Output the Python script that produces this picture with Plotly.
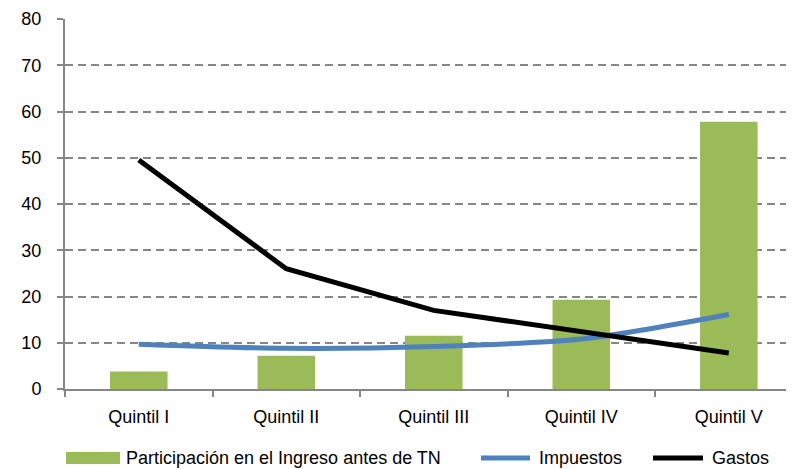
import plotly.graph_objects as go

categories = ["Quintil I", "Quintil II", "Quintil III", "Quintil IV", "Quintil V"]
ingreso = [3.8, 7.2, 11.5, 19.3, 57.8]
impuestos = [9.7, 8.8, 9.2, 10.8, 16.1]
gastos = [49.5, 26.0, 17.0, 12.3, 7.8]
y_ticks = [0, 10, 20, 30, 40, 50, 60, 70, 80]

names = ["Participación en el Ingreso antes de TN", "Impuestos", "Gastos"]
GREEN, BLUE, BLACK, GRAY = "#9BBB59", "#4F81BD", "#000000", "#868686"
FONT = "Liberation Sans, Arial, sans-serif"
FS = 18

fig = go.Figure()
fig.add_trace(go.Bar(x=categories, y=ingreso, name=names[0], marker_color=GREEN,
                     marker_line_width=0, width=0.39, showlegend=False))
fig.add_trace(go.Scatter(x=categories, y=impuestos, name=names[1], mode="lines",
                         line=dict(color=BLUE, width=5, shape="spline", smoothing=0.8),
                         showlegend=False))
fig.add_trace(go.Scatter(x=categories, y=gastos, name=names[2], mode="lines",
                         line=dict(color=BLACK, width=5), showlegend=False))

OFF = 8  # default page body margin
W, H = 794 - OFF, 469 - OFF
# plot area in page pixels: x 65..794, y 19..389
L, T = 65 - OFF, 19 - OFF
R, B = 0, H - (389 - OFF)
pw, ph = W - L - R, H - T - B

def px(x):
    return (x - OFF - L) / pw

def py(y):
    return (H - B - (y - OFF)) / ph

ly = 458
shapes = [
    dict(type="rect", xref="paper", yref="paper", x0=px(66), x1=px(120),
         y0=py(ly + 6), y1=py(ly - 6), fillcolor=GREEN, line_width=0),
    dict(type="line", xref="paper", yref="paper", x0=px(481), x1=px(530),
         y0=py(ly), y1=py(ly), line=dict(color=BLUE, width=5)),
    dict(type="line", xref="paper", yref="paper", x0=px(653), x1=px(703),
         y0=py(ly), y1=py(ly), line=dict(color=BLACK, width=5)),
]
annotations = [
    dict(xref="paper", yref="paper", x=px(x0), y=py(ly), text=t, showarrow=False,
         xanchor="left", yanchor="middle", font=dict(family=FONT, size=FS, color="#000"))
    for x0, t in [(124, names[0]), (537, names[1]), (710, names[2])]
]

fig.update_layout(
    width=W, height=H,
    margin=dict(l=L, r=R, t=T, b=B, pad=0),
    paper_bgcolor="white", plot_bgcolor="white",
    font=dict(family=FONT, size=FS, color="#000"),
    shapes=shapes, annotations=annotations,
    showlegend=False,
)
fig.update_xaxes(type="category", range=[-0.5, 4.442], showline=True, linecolor=GRAY,
                 linewidth=2, ticks="outside", tickson="boundaries", ticklen=6,
                 tickcolor=GRAY, tickwidth=2, showgrid=False, ticklabelstandoff=10,
                 tickfont=dict(family=FONT, size=FS))
fig.update_yaxes(range=[0, 80], tickvals=y_ticks, showline=True, linecolor=GRAY,
                 linewidth=2, ticks="outside", ticklen=6, tickcolor=GRAY, tickwidth=2,
                 showgrid=True, gridcolor=GRAY, gridwidth=1.5, griddash="8px,5px",
                 zeroline=False, ticklabelstandoff=12,
                 tickfont=dict(family=FONT, size=FS))

fig.write_html("out.html")
